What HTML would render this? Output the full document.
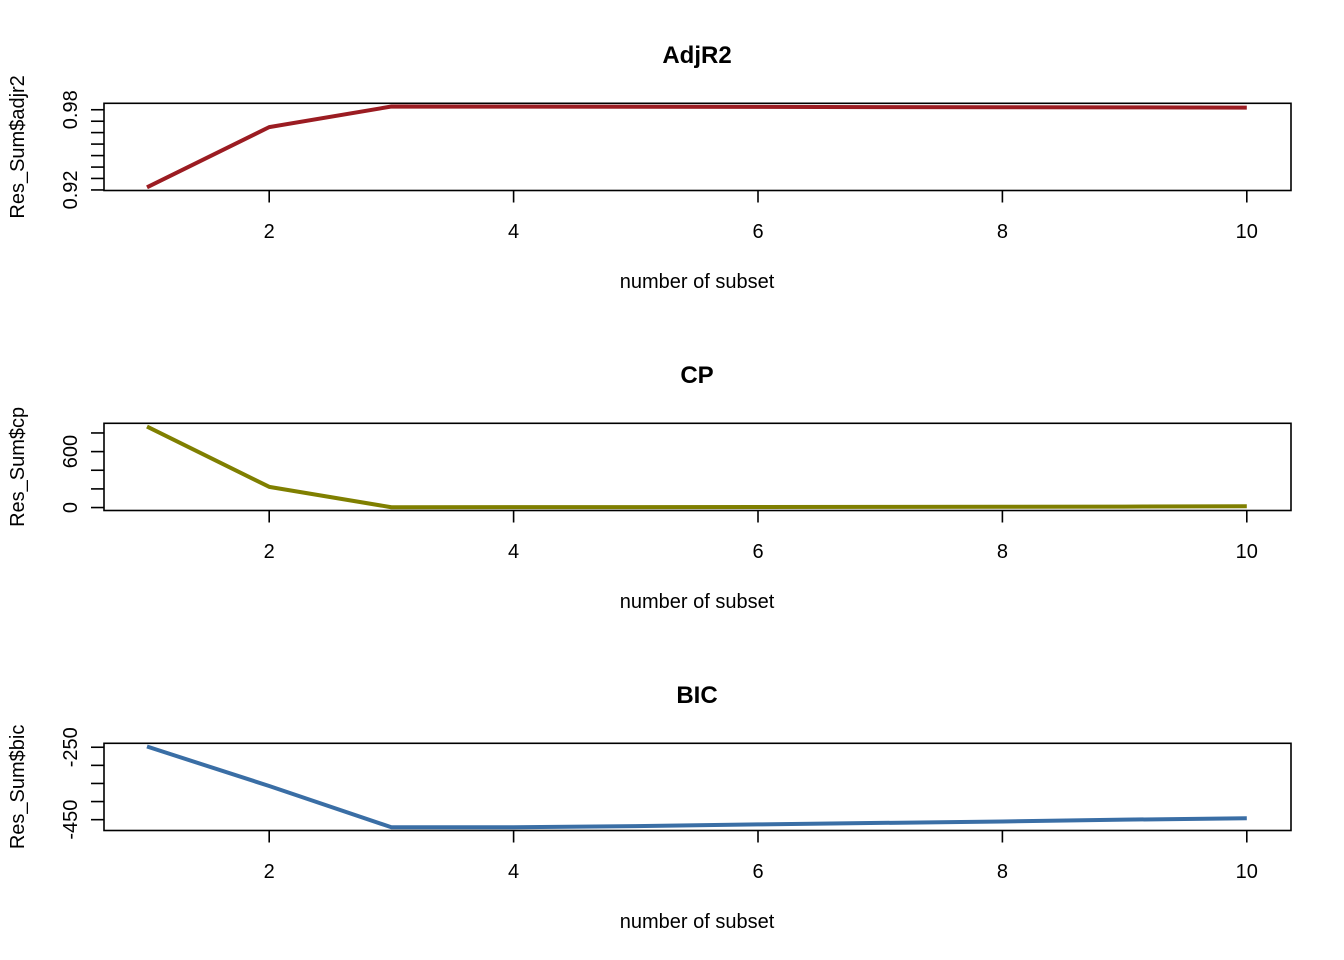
<!DOCTYPE html>
<html><head><meta charset="utf-8"><style>
body{margin:0;background:#fff}
svg{display:block;font-family:"Liberation Sans",Arial,sans-serif}
</style></head><body>
<svg id="chart" width="1344" height="960" viewBox="0 0 1344 960" xmlns="http://www.w3.org/2000/svg"></svg>
<script>
const subsets = [1,2,3,4,5,6,7,8,9,10];
const adjr2Values = [0.922,0.967,0.9824,0.9823,0.9822,0.9821,0.982,0.9819,0.9818,0.9816];
const cpValues = [869,222,3,4,5,6,7,8,10,14];
const bicValues = [-248,-357,-471,-471,-468,-463,-459,-455,-450,-446];
const xTicks = [2,4,6,8,10];
const adjr2Ticks = [0.92,0.9286,0.9371,0.9457,0.9543,0.9629,0.9714,0.98];
const adjr2TickLabels = ["0.92","","","","","","","0.98"];
const cpTicks = [0,200,400,600,800];
const cpTickLabels = ["0","","","600",""];
const bicTicks = [-450,-400,-350,-300,-250];
const bicTickLabels = ["-450","","","","-250"];

const svg = document.getElementById('chart');
const NS = 'http://www.w3.org/2000/svg';
function mk(tag, attrs, parent){const e=document.createElementNS(NS,tag);for(const k in attrs)e.setAttribute(k,attrs[k]);(parent||svg).appendChild(e);return e;}

const L=104, R=1291;
const xs = v => 147 + (v-1)*122.2;

function panel(off, name, title, ylab, vals, yTop, yBot, ticks, labels, color){
  const g = mk('g',{});
  
  
  const top=103.3+off, bot=190.5+off;
  const mn=Math.min(...vals), mx=Math.max(...vals), pad=(mx-mn)*0.04;
  const ys = v => bot - (v-(mn-pad))/((mx+pad)-(mn-pad))*(bot-top);
  const t = mk('text',{x:697,y:63+off,'text-anchor':'middle','font-size':24,'font-weight':'bold'},g);
  t.textContent=title;
  
  
  const box = mk('rect',{x:L,y:top,width:R-L,height:bot-top,fill:'none',stroke:'#000','stroke-width':1.6},g);
  
  
  xTicks.forEach(v=>{
    mk('line',{x1:xs(v),x2:xs(v),y1:bot,y2:bot+12,stroke:'#000','stroke-width':1.6},g);
    const tl=mk('text',{x:xs(v),y:238+off,'text-anchor':'middle','font-size':20},g);
    tl.textContent=v;
    
    
  });
  ticks.forEach((v,i)=>{
    const y=ys(v);
    mk('line',{x1:L-13,x2:L,y1:y,y2:y,stroke:'#000','stroke-width':1.6},g);
    if(labels[i]){
      const tl=mk('text',{x:0,y:0,'text-anchor':'middle','font-size':20,transform:`translate(77,${y}) rotate(-90)`},g);
      tl.textContent=labels[i];
      
      
    }
  });
  const xl=mk('text',{x:697,y:288+off,'text-anchor':'middle','font-size':20},g);
  xl.textContent='number of subset';
  
  
  const yl=mk('text',{x:0,y:0,'text-anchor':'middle','font-size':20,transform:`translate(24,${(top+bot)/2}) rotate(-90)`},g);
  yl.textContent=ylab;
  
  
  const line=mk('polyline',{points:vals.map((v,i)=>xs(subsets[i])+','+ys(v)).join(' '),fill:'none',stroke:color,'stroke-width':4,'stroke-linejoin':'round'},g);
  
  
}
panel(0,'adjr2','AdjR2','Res_Sum$adjr2',adjr2Values,0,0,adjr2Ticks,adjr2TickLabels,'#9b1c22');
panel(320,'cp','CP','Res_Sum$cp',cpValues,0,0,cpTicks,cpTickLabels,'#7f7f00');
panel(640,'bic','BIC','Res_Sum$bic',bicValues,0,0,bicTicks,bicTickLabels,'#3a6ea5');
</script>
</body></html>
